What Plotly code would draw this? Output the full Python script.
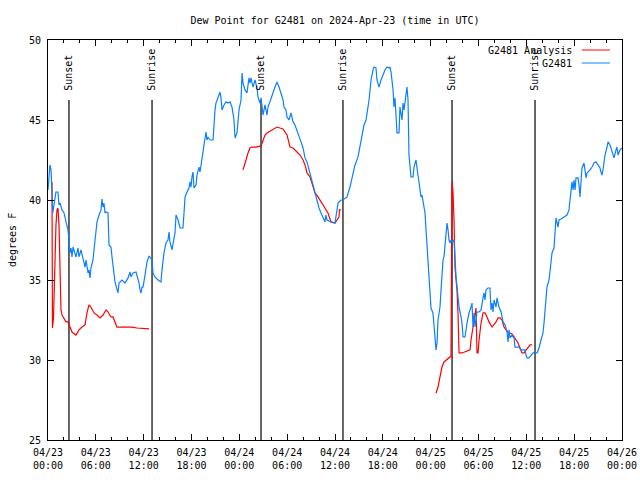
import plotly.graph_objects as go

TITLE = "Dew Point for G2481 on 2024-Apr-23 (time in UTC)"
Y_LABEL = "degrees F"
SERIES_NAMES = ["G2481 Analysis", "G2481"]

# hours since 2024-04-23 00:00 UTC
tick_hours = [0, 6, 12, 18, 24, 30, 36, 42, 48, 54, 60, 66, 72]
tick_labels = ["04/23<br>00:00", "04/23<br>06:00", "04/23<br>12:00", "04/23<br>18:00",
               "04/24<br>00:00", "04/24<br>06:00", "04/24<br>12:00", "04/24<br>18:00",
               "04/25<br>00:00", "04/25<br>06:00", "04/25<br>12:00", "04/25<br>18:00",
               "04/26<br>00:00"]

sun_hours = [2.63, 13.05, 26.72, 37.0, 50.68, 61.09]
sun_labels = ["Sunset", "Sunrise", "Sunset", "Sunrise", "Sunset", "Sunrise"]

# observed station dew point (blue)
obs_hours = [
    0, 0.25, 0.38, 0.50, 0.60, 1.00, 1.25, 1.38, 1.51, 1.76, 2.01, 2.26, 2.51, 2.63, 2.76, 2.89,
    3.01, 3.14, 3.39, 3.51, 3.76, 3.89, 4.14, 4.39, 4.64, 4.77, 5.02, 5.14, 5.27, 5.39, 5.64, 5.90,
    6.15, 6.40, 6.65, 6.77, 6.90, 7.02, 7.15, 7.28, 7.53, 7.65, 7.90, 8.03, 8.28, 8.40, 8.78, 8.91,
    9.28, 9.66, 10.04, 10.29, 10.41, 10.66, 11.04, 11.42, 11.54, 11.67, 11.79, 11.92, 12.17, 12.42,
    12.67, 13.05, 13.17, 13.42, 13.80, 14.17, 14.30, 14.55, 14.80, 15.05, 15.18, 15.30, 15.55, 15.68,
    15.93, 16.06, 16.31, 16.56, 16.93, 17.06, 17.19, 17.44, 17.69, 17.81, 17.94, 18.06, 18.19, 18.31,
    18.57, 18.69, 18.82, 18.94, 19.07, 19.32, 19.44, 19.57, 19.82, 19.94, 20.07, 20.32, 20.70, 20.82,
    20.95, 21.07, 21.58, 21.70, 21.83, 22.08, 22.33, 22.58, 22.83, 23.08, 23.33, 23.46, 23.71, 23.96,
    24.21, 24.34, 24.46, 24.71, 24.96, 25.21, 25.33, 25.46, 25.72, 25.97, 26.22, 26.34, 26.59, 26.72,
    26.84, 26.97, 27.22, 27.47, 27.60, 27.85, 28.22, 28.47, 28.73, 28.98, 29.23, 29.48, 29.60, 29.85,
    29.98, 30.23, 30.48, 30.73, 30.98, 31.23, 31.49, 31.74, 31.99, 32.24, 32.49, 32.74, 32.99, 33.24,
    33.49, 33.74, 33.99, 34.25, 34.50, 34.75, 34.87, 35.00, 35.50, 36.00, 36.38, 36.75, 37.00, 37.51,
    37.88, 38.13, 38.51, 38.89, 39.14, 39.39, 39.64, 39.89, 40.14, 40.27, 40.52, 40.64, 40.77, 40.89,
    41.14, 41.27, 41.52, 41.77, 42.02, 42.27, 42.52, 42.78, 42.90, 43.03, 43.28, 43.40, 43.53, 43.65,
    43.78, 44.03, 44.15, 44.41, 44.53, 44.66, 44.78, 44.91, 45.03, 45.16, 45.28, 45.53, 45.79, 45.91,
    46.16, 46.29, 46.54, 46.79, 46.91, 47.04, 47.29, 47.42, 47.67, 47.79, 47.92, 48.04, 48.29, 48.42,
    48.54, 48.67, 48.80, 48.92, 49.17, 49.30, 49.42, 49.55, 49.67, 49.80, 49.92, 50.05, 50.18, 50.30,
    50.43, 50.55, 50.68, 50.93, 51.18, 51.43, 51.56, 51.81, 51.93, 52.06, 52.31, 52.56, 52.81, 53.06,
    53.19, 53.31, 53.44, 53.56, 53.81, 54.07, 54.32, 54.57, 54.69, 54.82, 54.94, 55.19, 55.44, 55.57,
    55.70, 55.82, 55.95, 56.20, 56.32, 56.57, 56.83, 57.08, 57.33, 57.58, 57.70, 57.83, 57.95, 58.20,
    58.46, 58.58, 59.08, 59.33, 59.84, 59.96, 60.09, 60.34, 60.59, 60.84, 61.34, 61.59, 61.84, 62.09,
    62.22, 62.34, 62.47, 62.59, 62.85, 62.97, 63.10, 63.22, 63.47, 63.60, 63.72, 63.97, 64.10, 64.35,
    64.60, 64.85, 65.10, 65.35, 65.48, 65.73, 65.86, 65.98, 66.11, 66.23, 66.48, 66.61, 66.73, 66.86,
    66.98, 67.23, 67.49, 67.61, 67.74, 67.99, 68.24, 68.49, 68.74, 68.99, 69.24, 69.37, 69.49, 69.62,
    69.74, 69.87, 70.12, 70.25, 70.50, 70.62, 70.87, 71.00, 71.25, 71.37, 71.50, 71.75, 72.00]
obs_dewpt = [
    40.63, 42.19, 41.88, 40.63, 39.19, 40.5, 40.5, 39.69, 39.81, 39.38, 39.19, 38.63, 38.13, 37.5, 36.69, 37.0,
    36.44, 37.06, 36.69, 36.44, 37.0, 36.44, 36.88, 36.25, 35.81, 36.25, 35.44, 35.63, 35.13, 35.75, 36.25, 37.5,
    38.63, 39.06, 39.38, 40.06, 39.56, 39.81, 39.19, 39.25, 39.19, 37.19, 37.06, 36.44, 35.31, 34.88, 34.19, 34.81,
    35.0, 34.81, 35.13, 35.5, 35.19, 35.44, 35.5, 34.81, 34.38, 34.19, 34.56, 34.56, 35.3, 36.13,
    36.5, 36.25, 35.44, 35.19, 35.0, 34.88, 35.63, 36.69, 37.31, 37.5, 38.0, 37.38, 36.88, 37.31,
    37.94, 39.06, 38.75, 38.25, 38.25, 39.19, 40.19, 40.5, 40.75, 41.13, 40.81, 41.44, 41.75, 40.75,
    40.94, 41.56, 41.88, 42.06, 41.75, 42.5, 42.81, 43.44, 44.25, 43.75, 43.94, 43.75, 43.75, 44.81,
    45.63, 46.06, 46.75, 46.38, 45.63, 45.94, 46.13, 46.06, 46.13, 45.81, 45.0, 43.88, 44.19, 45.63,
    46.25, 47.94, 47.31, 46.88, 46.69, 47.63, 47.31, 47.63, 47.06, 47.5, 47.0, 46.44, 46.06, 46.38,
    45.63, 45.31, 45.94, 45.31, 45.81, 46.13, 46.69, 47.06, 47.38, 47.06, 46.69, 46.25, 45.81, 45.63,
    45.19, 45.0, 45.44, 44.88, 44.69, 44.38, 43.94, 43.63, 43.25, 42.63, 42.38, 41.88, 41.38, 40.81,
    40.31, 39.81, 39.5, 39.19, 38.88, 38.63, 39.06, 38.75, 38.63, 38.56, 39.81, 40.0, 40.0, 40.19,
    40.81, 41.44, 42.19, 42.69, 43.31, 43.94, 44.69, 45.0, 45.81, 46.25, 47.5, 47.94, 48.13, 48.31,
    48.25, 47.5, 47.06, 47.5, 47.81, 48.13, 48.31, 48.25, 48.31, 48.0, 46.88, 45.81, 46.38, 45.19,
    44.19, 44.19, 45.81, 45.0, 46.06, 45.63, 46.13, 46.69, 47.06, 46.25, 42.81, 41.44, 41.44, 42.06,
    42.5, 42.0, 41.06, 40.19, 40.31, 40.0, 39.19, 38.13, 36.06, 35.0, 33.94, 33.25, 32.94, 32.31,
    31.44, 30.63, 31.06, 32.5, 33.31, 34.38, 35.5, 36.25, 36.44, 37.06, 37.94, 38.56, 38.13, 37.5,
    37.31, 37.5, 37.38, 37.5, 35.19, 34.19, 33.31, 32.69, 32.31, 31.44, 31.44, 32.31, 32.94, 33.31,
    33.56, 32.06, 32.94, 32.06, 33.0, 33.0, 33.13, 33.88, 34.19, 33.75, 34.38, 34.5, 34.5, 33.13,
    33.56, 33.0, 33.75, 33.31, 33.88, 33.31, 33.0, 32.38, 32.19, 31.75, 31.13, 31.88, 31.38, 31.56,
    31.38, 30.81, 30.81, 30.63, 30.63, 30.31, 30.13, 30.13, 30.31, 30.44, 30.44, 30.75, 31.25, 31.69,
    32.31, 33.25, 33.88, 34.56, 35.0, 35.63, 36.06, 36.69, 37.0, 37.9, 38.88, 38.31, 38.75, 38.81,
    38.88, 39.0, 39.06, 39.38, 40.13, 41.13, 40.63, 41.25, 40.63, 41.38, 41.38, 40.94, 40.19, 41.13,
    42.0, 42.31, 41.38, 41.69, 41.75, 41.88, 42.06, 42.31, 42.38, 42.19, 42.0, 41.75, 41.56, 41.88,
    42.31, 42.81, 43.31, 43.63, 43.44, 43.25, 42.81, 42.63, 43.13, 43.31, 42.81, 43.13, 43.25]

# analysis dew point (red), three runs
ana1_hours = [0.50, 0.56, 0.69, 0.75, 0.88, 1.00, 1.13, 1.25, 1.38, 1.51, 1.63, 1.76, 2.01, 2.26,
              2.51, 2.76, 3.01, 3.51, 3.89, 4.26, 4.64, 4.89, 5.14, 5.39, 5.77, 6.15, 6.52, 6.90,
              7.28, 7.53, 7.90, 8.15, 8.40, 8.65, 9.03, 10.54, 11.17, 12.67]
ana1_dewpt = [41.13, 32.0, 32.63, 34.06, 36.25, 38.44, 39.38, 39.5, 38.44, 35.0, 33.13, 32.81, 32.63, 32.38,
              32.38, 32.06, 31.75, 31.56, 31.88, 32.06, 32.19, 32.94, 33.44, 33.31, 32.94, 32.81, 32.63, 32.81,
              33.13, 33.0, 32.69, 32.69, 32.38, 32.06, 32.06, 32.06, 32.0, 31.94]
ana2_hours = [24.46, 24.59, 24.84, 25.09, 25.33, 25.59, 26.09, 26.72, 26.97, 27.22, 27.47, 28.10, 28.73,
              29.48, 29.98, 30.36, 30.73, 31.23, 31.61, 31.99, 32.24, 32.49, 32.86, 33.11, 33.49, 33.87,
              34.37, 34.75, 35.12, 35.50, 36.00, 36.25, 36.50, 36.55, 36.75]
ana2_dewpt = [41.88, 42.06, 42.5, 42.94, 43.25, 43.31, 43.31, 43.38, 43.75, 44.06, 44.19, 44.38, 44.56,
              44.44, 44.06, 43.31, 43.25, 43.0, 42.81, 42.5, 42.19, 41.69, 41.44, 41.06, 40.44, 40.19,
              39.81, 39.5, 39.19, 38.63, 38.56, 38.75, 38.94, 39.38, 39.38]
ana3_hours = [48.67, 48.92, 49.17, 49.42, 49.67, 49.92, 50.18, 50.43, 50.55, 50.60, 50.68, 50.80, 50.93,
              51.05, 51.18, 51.30, 51.43, 51.56, 51.93, 52.31, 52.69, 52.94, 53.06, 53.31, 53.56, 53.69,
              53.81, 53.94, 54.07, 54.32, 54.57, 54.82, 55.07, 55.32, 55.70, 55.95, 56.20, 56.45, 56.70,
              56.95, 57.20, 57.45, 57.70, 57.95, 58.20, 58.46, 58.71, 58.96, 59.21, 59.46, 59.71, 59.96,
              60.21, 60.46, 60.71]
ana3_dewpt = [27.94, 28.31, 28.94, 29.56, 29.88, 30.0, 30.13, 30.19, 30.19, 35.6, 41.13, 40.5, 38.75,
              35.81, 35.0, 34.38, 32.94, 30.44, 30.44, 30.5, 30.56, 30.63, 31.25, 32.06, 32.94, 33.25,
              30.44, 30.44, 31.25, 32.31, 32.94, 32.94, 32.69, 32.38, 32.06, 32.19, 32.38, 32.63, 32.63,
              32.5, 32.06, 31.88, 31.75, 31.69, 31.63, 31.44, 31.25, 31.06, 30.75, 30.44, 30.44, 30.63,
              30.75, 30.94, 30.94]

RED = "#ff0000"
BLUE = "#0a80ff"
FONT = "DejaVu Sans Mono"

ana_x = ana1_hours + [None] + ana2_hours + [None] + ana3_hours
ana_y = ana1_dewpt + [None] + ana2_dewpt + [None] + ana3_dewpt

fig = go.Figure()
fig.add_trace(go.Scatter(x=ana_x, y=ana_y, mode="lines", name=SERIES_NAMES[0],
                         line=dict(color=RED, width=1.2), connectgaps=False, showlegend=False))
fig.add_trace(go.Scatter(x=obs_hours, y=obs_dewpt, mode="lines", name=SERIES_NAMES[1],
                         line=dict(color=BLUE, width=1.2), showlegend=False))

shapes = []
annotations = []
for h, lab in zip(sun_hours, sun_labels):
    shapes.append(dict(type="line", xref="x", yref="y", x0=h, x1=h, y0=25, y1=46.25,
                       line=dict(color="black", width=1.2), layer="below"))
    annotations.append(dict(x=h, y=46.7, xref="x", yref="y", text=lab, textangle=-90,
                            showarrow=False, xanchor="center", yanchor="bottom",
                            font=dict(family=FONT, size=10, color="black")))

# gnuplot-style key, top right
for i, (name, col) in enumerate(zip(SERIES_NAMES, [RED, BLUE])):
    yk = 0.975 - i * 0.0325
    annotations.append(dict(x=0.9164, y=yk, xref="paper", yref="paper", text=name, showarrow=False,
                            xanchor="right", yanchor="middle",
                            font=dict(family=FONT, size=10, color="black")))
    shapes.append(dict(type="line", xref="paper", yref="paper", x0=0.930, x1=0.979, y0=yk, y1=yk,
                       line=dict(color=col, width=1)))

annotations.append(dict(x=-0.0627, y=0.5, xref="paper", yref="paper", text=Y_LABEL, textangle=-90,
                        showarrow=False, xanchor="center", yanchor="middle",
                        font=dict(family=FONT, size=10, color="black")))

fig.update_layout(
    width=640, height=480,
    margin=dict(l=48, r=18, t=40, b=40, autoexpand=False),
    paper_bgcolor="white", plot_bgcolor="white",
    title=dict(text=TITLE, xref="paper", x=0.5, xanchor="center", y=1 - 20 / 480, yanchor="middle",
               font=dict(family=FONT, size=10, color="black")),
    font=dict(family=FONT, size=10, color="black"),
    shapes=shapes, annotations=annotations, showlegend=False,
)
fig.update_xaxes(range=[0, 72], tickmode="array", tickvals=tick_hours, ticktext=tick_labels,
                 automargin=False, ticklabelstandoff=3,
                 showgrid=False, zeroline=False, showline=True, linecolor="black", linewidth=1,
                 mirror="ticks", ticks="inside", ticklen=6, tickcolor="black",
                 minor=dict(dtick=2, tick0=0, ticks="inside", ticklen=3, tickcolor="black"),
                 tickfont=dict(family=FONT, size=10))
fig.update_yaxes(range=[25, 50], tickmode="array", tickvals=[25, 30, 35, 40, 45, 50],
                 automargin=False, ticklabelstandoff=4,
                 showgrid=False, zeroline=False, showline=True, linecolor="black", linewidth=1,
                 mirror="ticks", ticks="inside", ticklen=6, tickcolor="black",
                 tickfont=dict(family=FONT, size=10))

fig.write_html("out.html", config={"displayModeBar": False},
               post_script="document.body.style.margin='0';document.body.style.padding='0';")
